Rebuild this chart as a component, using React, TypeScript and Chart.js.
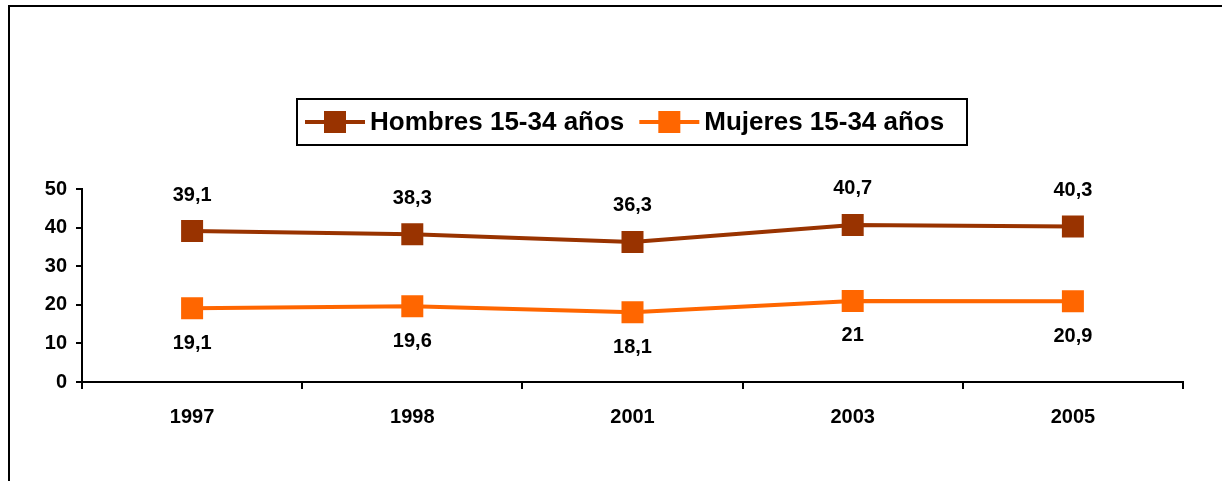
import React, { useEffect, useRef } from "react";
import { Chart, registerables } from "chart.js";

Chart.register(...registerables);

const categories = ["1997", "1998", "2001", "2003", "2005"];
const hombres = [39.1, 38.3, 36.3, 40.7, 40.3];
const mujeres = [19.1, 19.6, 18.1, 21, 20.9];
const seriesNames = ["Hombres 15-34 años", "Mujeres 15-34 años"];
const yTicks = [0, 10, 20, 30, 40, 50];

const BROWN = "#993300";
const ORANGE = "#FF6600";
const FONT = "'Liberation Sans', Arial, sans-serif";

const fmt = (v: number) => String(v).replace(".", ",");

const dataLabelPlugin = {
  id: "dataLabels",
  afterDatasetsDraw(chart: any) {
    const ctx = chart.ctx;
    ctx.save();
    ctx.font = `bold 20px ${FONT}`;
    ctx.fillStyle = "#000";
    ctx.textAlign = "center";
    ctx.textBaseline = "middle";
    chart.data.datasets.forEach((ds: any, i: number) => {
      const meta = chart.getDatasetMeta(i);
      meta.data.forEach((pt: any, j: number) => {
        const dy = i === 0 ? -36 : 35;
        ctx.fillText(fmt(ds.data[j]), pt.x, pt.y + dy);
      });
    });
    ctx.restore();
  },
};

const legendPlugin = {
  id: "customLegend",
  afterDraw(chart: any) {
    const ctx = chart.ctx;
    ctx.save();
    const boxL = 297, boxT = 99, boxR = 967, boxB = 145;
    ctx.strokeStyle = "#000";
    ctx.lineWidth = 2;
    ctx.strokeRect(boxL, boxT, boxR - boxL, boxB - boxT);
    ctx.font = `bold 26px ${FONT}`;
    ctx.textBaseline = "middle";
    ctx.textAlign = "left";
    const cy = (boxT + boxB) / 2;
    let x = 305;
    chart.data.datasets.forEach((ds: any) => {
      ctx.strokeStyle = ds.borderColor;
      ctx.lineWidth = 4;
      ctx.beginPath();
      ctx.moveTo(x, cy);
      ctx.lineTo(x + 60, cy);
      ctx.stroke();
      ctx.fillStyle = ds.backgroundColor;
      ctx.fillRect(x + 30 - 11, cy - 11, 22, 22);
      ctx.fillStyle = "#000";
      ctx.fillText(ds.label, x + 65, cy + 1);
      const w = ctx.measureText(ds.label).width;
      x = x + 65 + w + 15;
    });
    ctx.restore();
  },
};

export default function App() {
  const ref = useRef<HTMLCanvasElement | null>(null);
  useEffect(() => {
    document.body.style.margin = "0";
    document.body.style.overflow = "hidden";
    const pointR = 11 * Math.SQRT2;
    const chart = new Chart(ref.current as HTMLCanvasElement, {
      type: "line",
      data: {
        labels: categories,
        datasets: [
          {
            label: seriesNames[0],
            data: hombres,
            borderColor: BROWN,
            backgroundColor: BROWN,
            borderWidth: 4,
            pointStyle: "rect",
            pointRadius: pointR,
            pointHoverRadius: pointR,
            pointBorderWidth: 0,
            tension: 0,
          },
          {
            label: seriesNames[1],
            data: mujeres,
            borderColor: ORANGE,
            backgroundColor: ORANGE,
            borderWidth: 4,
            pointStyle: "rect",
            pointRadius: pointR,
            pointHoverRadius: pointR,
            pointBorderWidth: 0,
            tension: 0,
          },
        ],
      },
      options: {
        animation: false,
        responsive: false,
        events: [],
        layout: { padding: { left: 0, top: 189, right: 39, bottom: 0 } },
        plugins: {
          legend: { display: false },
          tooltip: { enabled: false },
          title: { display: false },
        },
        scales: {
          x: {
            offset: true,
            grid: {
              offset: true,
              drawOnChartArea: false,
              drawTicks: true,
              tickLength: 7,
              color: "#000",
              lineWidth: 2,
            },
            border: { display: true, color: "#000", width: 2 },
            ticks: {
              color: "#000",
              font: { family: FONT, size: 20, weight: "bold" },
              padding: 16,
              maxRotation: 0,
            },
            afterFit: (scale: any) => {
              scale.height = 481 - 382;
            },
          },
          y: {
            min: 0,
            max: 50,
            afterBuildTicks: (scale: any) => {
              scale.ticks = yTicks.map((v) => ({ value: v }));
            },
            grid: {
              drawOnChartArea: false,
              drawTicks: true,
              tickLength: 6,
              color: "#000",
              lineWidth: 2,
            },
            border: { display: true, color: "#000", width: 2 },
            ticks: {
              color: "#000",
              font: { family: FONT, size: 20, weight: "bold" },
              padding: 9,
            },
            afterFit: (scale: any) => {
              scale.width = 82;
            },
          },
        },
      },
      plugins: [dataLabelPlugin, legendPlugin],
    } as any);
    return () => chart.destroy();
  }, []);
  return (
    <div style={{ position: "relative", width: 1222, height: 481, overflow: "hidden", background: "#fff" }}>
      <div
        style={{
          position: "absolute",
          left: 8,
          top: 5,
          width: 1300,
          height: 600,
          border: "2px solid #000",
          boxSizing: "border-box",
        }}
      />
      <canvas ref={ref} width={1222} height={481} style={{ position: "absolute", left: 0, top: 0, display: "block" }} />
    </div>
  );
}
